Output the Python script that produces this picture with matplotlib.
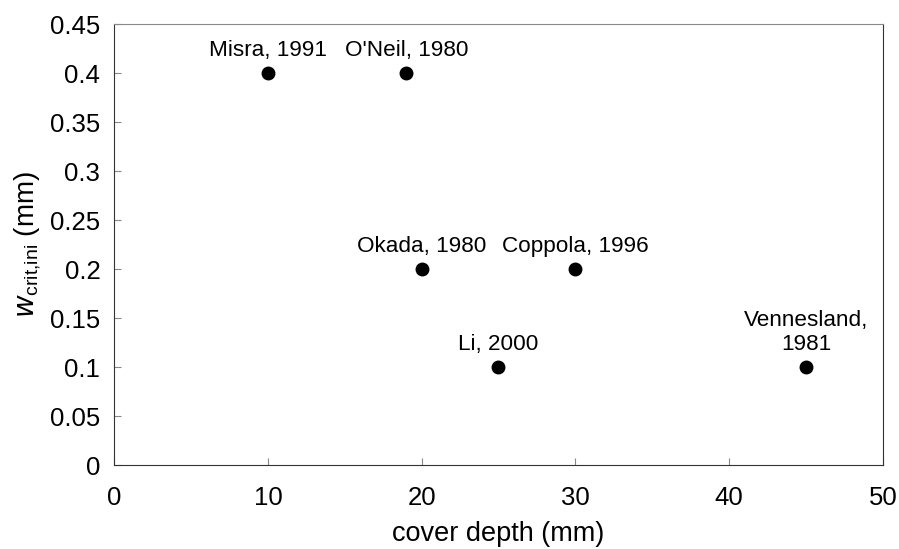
import matplotlib.pyplot as plt

plt.rcParams['font.family'] = ['Liberation Sans', 'DejaVu Sans']

cover_depth = [10, 19, 20, 25, 30, 45]
w_crit = [0.4, 0.4, 0.2, 0.1, 0.2, 0.1]
labels = ["Misra, 1991", "O'Neil, 1980", "Okada, 1980", "Li, 2000",
          "Coppola, 1996", "Vennesland,\n1981"]

fig = plt.figure(figsize=(8.99, 5.49), dpi=100)
ax = fig.add_axes([0.127, 0.153, 0.855, 0.803])

ax.plot(cover_depth, w_crit, 'o', color='black', markersize=9, linestyle='none')
for x, y, lab in zip(cover_depth, w_crit, labels):
    ax.annotate(lab, (x, y), xytext=(0, 9), textcoords='offset points',
                ha='center', va='bottom', fontsize=16.2, linespacing=1.15)

ax.set_xlim(0, 50)
ax.set_ylim(0, 0.45)
ax.set_xticks([0, 10, 20, 30, 40, 50])
ax.set_yticks([0, 0.05, 0.1, 0.15, 0.2, 0.25, 0.3, 0.35, 0.4, 0.45])
ax.set_yticklabels(['0', '0.05', '0.1', '0.15', '0.2', '0.25', '0.3', '0.35', '0.4', '0.45'])
ax.tick_params(direction='in', length=5, color='#888888', labelsize=18.5)
ax.tick_params(axis='x', pad=15)
ax.tick_params(axis='y', pad=10)

for s in ax.spines.values():
    s.set_color('#333333')
ax.spines['top'].set_color('#888888')

ax.set_xlabel('cover depth (mm)', fontsize=19.5, labelpad=8)
ax.set_ylabel(r'$w_{\mathregular{crit{,}ini}}$ (mm)', fontsize=20, labelpad=4)

plt.savefig('out.png')
